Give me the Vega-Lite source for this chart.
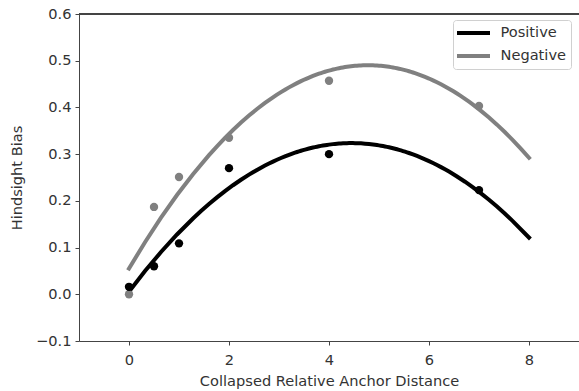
{
  "$schema": "https://vega.github.io/schema/vega-lite/v6.json",
  "width": 500,
  "height": 327,
  "autosize": {"type": "none"},
  "padding": {"left": 79, "top": 14, "right": 0, "bottom": 50},
  "background": "white",
  "config": {
    "view": {"stroke": null},
    "font": "DejaVu Sans",
    "axis": {
      "grid": false,
      "domainColor": "#444",
      "tickColor": "#444",
      "tickSize": 4,
      "labelColor": "#333",
      "labelFontSize": 14.6,
      "labelPadding": 4,
      "titleColor": "#333",
      "titleFontSize": 14.6,
      "titleFontWeight": "normal"
    },
    "axisX": {"labelPadding": 7, "titlePadding": 7},
    "axisY": {"labelPadding": 4, "titlePadding": 11},
    "legend": {
      "labelFontSize": 14.6,
      "labelColor": "#333",
      "padding": 5,
      "rowPadding": 7,
      "strokeColor": "#d0d0d0",
      "fillColor": "white",
      "cornerRadius": 3
    }
  },
  "data": {
    "values": [
      {"d": 0, "bias": 0.0, "group": "Negative"},
      {"d": 0.5, "bias": 0.187, "group": "Negative"},
      {"d": 1, "bias": 0.251, "group": "Negative"},
      {"d": 2, "bias": 0.335, "group": "Negative"},
      {"d": 4, "bias": 0.457, "group": "Negative"},
      {"d": 7, "bias": 0.403, "group": "Negative"},
      {"d": 0, "bias": 0.016, "group": "Positive"},
      {"d": 0.5, "bias": 0.06, "group": "Positive"},
      {"d": 1, "bias": 0.109, "group": "Positive"},
      {"d": 2, "bias": 0.27, "group": "Positive"},
      {"d": 4, "bias": 0.30, "group": "Positive"},
      {"d": 7, "bias": 0.223, "group": "Positive"}
    ]
  },
  "layer": [
    {
      "mark": {"type": "rule", "color": "#444", "strokeWidth": 1},
      "encoding": {"y": {"datum": 0.6}}
    },
    {
      "transform": [
        {"regression": "bias", "on": "d", "groupby": ["group"], "method": "poly", "order": 2, "extent": [0, 8]}
      ],
      "mark": {"type": "line", "strokeWidth": 4, "strokeCap": "square"},
      "encoding": {
        "x": {
          "field": "d", "type": "quantitative",
          "scale": {"domain": [-1, 9], "nice": false, "zero": false},
          "axis": {"values": [0, 2, 4, 6, 8], "title": "Collapsed Relative Anchor Distance"}
        },
        "y": {
          "field": "bias", "type": "quantitative",
          "scale": {"domain": [-0.1, 0.6], "nice": false, "zero": false},
          "axis": {"values": [-0.1, 0, 0.1, 0.2, 0.3, 0.4, 0.5, 0.6], "format": ".1f", "title": "Hindsight Bias"}
        },
        "stroke": {
          "field": "group", "type": "nominal",
          "scale": {"domain": ["Positive", "Negative"], "range": ["black", "gray"]},
          "legend": {
            "title": null,
            "orient": "none",
            "legendX": 374,
            "legendY": 6,
            "symbolType": "M-2.75,0H2.75",
            "symbolSize": 144,
            "symbolStrokeWidth": 4,
            "symbolOffset": 7.5,
            "labelOffset": 19,
            "labelExpr": "datum.label + '\u00a0'"
          }
        }
      }
    },
    {
      "mark": {"type": "point", "filled": true, "size": 70, "opacity": 1},
      "encoding": {
        "x": {"field": "d", "type": "quantitative"},
        "y": {"field": "bias", "type": "quantitative"},
        "fill": {
          "field": "group", "type": "nominal",
          "scale": {"domain": ["Positive", "Negative"], "range": ["black", "gray"]},
          "legend": null
        }
      }
    }
  ]
}
